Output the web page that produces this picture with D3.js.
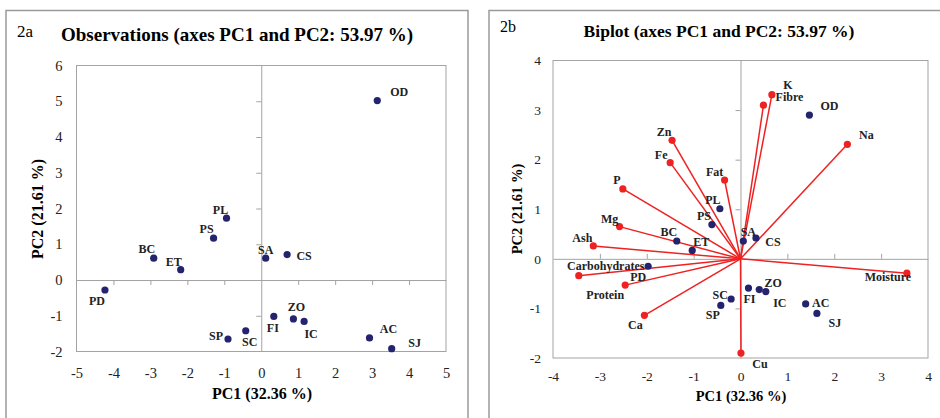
<!DOCTYPE html>
<html>
<head>
<meta charset="utf-8">
<script src="https://cdn.jsdelivr.net/npm/d3@7"></script>
<style>
  body { margin: 0; background: #fff; }
  svg { display: block; font-family: "Liberation Serif", "Times New Roman", serif; }
</style>
</head>
<body>
<div id="chart"></div>
<script>
// ---------- data ----------
const obsNames = ['OD', 'PL', 'PS', 'BC', 'ET', 'SA', 'CS', 'PD', 'FI', 'ZO', 'IC', 'SC', 'SP', 'AC', 'SJ'];
// panel 2a: observation scores
const obsPC1 = [3.14, -0.94, -1.29, -2.91, -2.18, 0.12, 0.70, -4.23, 0.34, 0.87, 1.16, -0.42, -0.90, 2.93, 3.53];
const obsPC2 = [5.02, 1.73, 1.17, 0.61, 0.29, 0.61, 0.71, -0.28, -1.02, -1.09, -1.16, -1.42, -1.65, -1.62, -1.92];
// panel 2b: observations on biplot scale
const bipObsPC1 = [1.47, -0.44, -0.61, -1.36, -1.03, 0.06, 0.33, -1.97, 0.17, 0.40, 0.54, -0.20, -0.42, 1.39, 1.63];
const bipObsPC2 = [2.90, 1.01, 0.69, 0.36, 0.17, 0.36, 0.42, -0.15, -0.59, -0.62, -0.66, -0.81, -0.94, -0.91, -1.10];
// panel 2b: variables
const varNames = ['K', 'Fibre', 'Na', 'Zn', 'Fe', 'Fat', 'P', 'Mg', 'Ash', 'Carbohydrates', 'Protein', 'Ca', 'Cu', 'Moisture'];
const varPC1 = [0.67, 0.49, 2.28, -1.46, -1.50, -0.34, -2.51, -2.58, -3.14, -3.45, -2.46, -2.05, 0.01, 3.55];
const varPC2 = [3.31, 3.10, 2.31, 2.39, 1.94, 1.59, 1.41, 0.65, 0.26, -0.34, -0.53, -1.14, -1.90, -0.29];

const xTicksA = [-5, -4, -3, -2, -1, 0, 1, 2, 3, 4, 5];
const yTicksA = [-2, -1, 0, 1, 2, 3, 4, 5, 6];
const xTicksB = [-4, -3, -2, -1, 0, 1, 2, 3, 4];
const yTicksB = [-2, -1, 0, 1, 2, 3, 4];

// label offsets (px, centre of label relative to its point)
const offA = {
  OD: [22, -9], PL: [-6, -8], PS: [-7, -9], BC: [-7, -9], ET: [-7, -8], SA: [0, -8], CS: [17, 1],
  PD: [-8, 11], FI: [-1, 12], ZO: [3, -12], IC: [7, 13], SC: [4, 11], SP: [-12, -3], AC: [19, -9], SJ: [23, -6]
};
const offBObs = {
  OD: [20, -9], PL: [-7, -9], PS: [-8, -9], BC: [-8, -9], ET: [9, -8], SA: [5, -9], CS: [17, 4],
  PD: [-10, 11], FI: [1, 11], ZO: [14, -7], IC: [14, 11], SC: [-11, -4], SP: [-8, 10], AC: [15, -1], SJ: [18, 10]
};
const offBVar = {
  K: [16, -10], Fibre: [26, -8], Na: [19, -9], Zn: [-8, -8], Fe: [-9, -8], Fat: [-10, -8], P: [-6, -9],
  Mg: [-10, -8], Ash: [-11, -8], Carbohydrates: [27, -10], Protein: [-20, 10], Ca: [-9, 10], Cu: [19, 11], Moisture: [-19, 4]
};

const grey = '#a3a3a3';
const blue = '#23236e';
const red = '#ee2222';
const serif = '"Liberation Serif", "Times New Roman", serif';

const svg = d3.select('#chart')
  .append('svg')
  .attr('width', 940)
  .attr('height', 418);

function drawPanel(p) {
  const g = svg.append('g');

  // outer box
  g.append('rect')
    .attr('x', p.box[0]).attr('y', p.box[1])
    .attr('width', p.box[2]).attr('height', p.box[3])
    .attr('fill', 'none').attr('stroke', '#9a9a9a').attr('stroke-width', 1.5);

  g.append('text')
    .attr('x', p.tag[0]).attr('y', p.tag[1])
    .attr('font-size', p.tagSize)
    .text(p.tagText);

  g.append('text')
    .attr('x', p.title[0]).attr('y', p.title[1])
    .attr('text-anchor', 'middle')
    .attr('font-size', p.titleSize)
    .attr('font-weight', 'bold')
    .text(p.titleText);

  const x = d3.scaleLinear().domain(p.xDomain).range([p.left, p.right]);
  const y = d3.scaleLinear().domain(p.yDomain).range([p.bottom, p.top]);

  // plot frame
  g.append('rect')
    .attr('x', p.left).attr('y', p.top)
    .attr('width', p.right - p.left).attr('height', p.bottom - p.top)
    .attr('fill', 'none').attr('stroke', grey).attr('stroke-width', 1);

  // tick labels outside the frame
  const xLab = g.append('g')
    .attr('transform', `translate(0,${p.bottom})`)
    .call(d3.axisBottom(x).tickValues(p.xTicks).tickSize(0).tickPadding(p.xPad).tickFormat(d => String(d)));
  const yLab = g.append('g')
    .attr('transform', `translate(${p.left},0)`)
    .call(d3.axisLeft(y).tickValues(p.yTicks).tickSize(0).tickPadding(p.yPad).tickFormat(d => String(d)));
  [xLab, yLab].forEach(a => {
    a.attr('font-family', serif).attr('font-size', p.tickSize);
    a.select('.domain').remove();
    a.selectAll('text')
      .attr('font-family', serif)
      .attr('font-size', p.tickSize)
      .attr('fill', '#222');
  });

  // zero axes with ticks
  const xi = p.xTicks.filter(d => d !== 0);
  const yi = p.yTicks.filter(d => d !== 0);
  const xAx = p.ticksUp ? d3.axisTop(x) : d3.axisBottom(x);
  const zx = g.append('g')
    .attr('transform', `translate(0,${y(0)})`)
    .call(xAx.tickValues(xi.filter(d => d > p.xDomain[0] && d < p.xDomain[1])).tickSize(5).tickSizeOuter(0).tickFormat(''));
  const zy = g.append('g')
    .attr('transform', `translate(${x(0)},0)`)
    .call(d3.axisLeft(y).tickValues(yi.filter(d => d > p.yDomain[0] && d < p.yDomain[1])).tickSize(5).tickSizeOuter(0).tickFormat(''));
  [zx, zy].forEach(a => {
    a.selectAll('path, line').attr('stroke', grey).attr('stroke-width', 1);
  });

  // axis titles
  g.append('text')
    .attr('x', p.xTitle[0]).attr('y', p.xTitle[1])
    .attr('text-anchor', 'middle')
    .attr('font-size', p.axTitleSize).attr('font-weight', 'bold')
    .text('PC1 (32.36 %)');
  g.append('text')
    .attr('transform', `translate(${p.yTitle[0]},${p.yTitle[1]}) rotate(-90)`)
    .attr('text-anchor', 'middle')
    .attr('font-size', p.axTitleSize).attr('font-weight', 'bold')
    .text('PC2 (21.61 %)');

  return { g, x, y };
}

// ---------- panel 2a ----------
const A = drawPanel({
  box: [6, 10.5, 462, 420], tag: [17, 37], tagSize: 17, tagText: '2a',
  title: [237, 41], titleSize: 19, titleText: 'Observations (axes PC1 and PC2: 53.97 %)',
  left: 76.5, right: 446, top: 65.5, bottom: 351.5,
  xDomain: [-5, 5], yDomain: [-2, 6], xTicks: xTicksA, yTicks: yTicksA,
  xPad: 16, yPad: 14, tickSize: 14.5, ticksUp: false,
  xTitle: [262, 399], yTitle: [43, 209], axTitleSize: 16
});

const obsA = obsNames.map((n, i) => ({ name: n, pc1: obsPC1[i], pc2: obsPC2[i] }));
A.g.selectAll('circle.obs')
  .data(obsA)
  .enter()
  .append('circle')
  .attr('class', 'obs')
  .attr('cx', d => A.x(d.pc1))
  .attr('cy', d => A.y(d.pc2))
  .attr('r', 3.6)
  .attr('fill', blue);
A.g.selectAll('text.obsl')
  .data(obsA)
  .enter()
  .append('text')
  .attr('class', 'obsl')
  .attr('x', d => A.x(d.pc1) + offA[d.name][0])
  .attr('y', d => A.y(d.pc2) + offA[d.name][1] + 4)
  .attr('text-anchor', 'middle')
  .attr('font-size', 12).attr('font-weight', 'bold')
  .attr('fill', '#222')
  .text(d => d.name);

// ---------- panel 2b ----------
const B = drawPanel({
  box: [489, 10.5, 470, 420], tag: [500, 32], tagSize: 16, tagText: '2b',
  title: [719, 37], titleSize: 17.5, titleText: 'Biplot (axes PC1 and PC2: 53.97 %)',
  left: 553, right: 928, top: 60.5, bottom: 358,
  xDomain: [-4, 4], yDomain: [-2, 4], xTicks: xTicksB, yTicks: yTicksB,
  xPad: 13, yPad: 12, tickSize: 13.5, ticksUp: true,
  xTitle: [741, 401], yTitle: [522, 209], axTitleSize: 14.5
});

const vars = varNames.map((n, i) => ({ name: n, pc1: varPC1[i], pc2: varPC2[i] }));
const obsB = obsNames.map((n, i) => ({ name: n, pc1: bipObsPC1[i], pc2: bipObsPC2[i] }));

B.g.selectAll('line.vec')
  .data(vars)
  .enter()
  .append('line')
  .attr('class', 'vec')
  .attr('x1', B.x(0)).attr('y1', B.y(0))
  .attr('x2', d => B.x(d.pc1))
  .attr('y2', d => B.y(d.pc2))
  .attr('stroke', red)
  .attr('stroke-width', 1.5);
B.g.selectAll('circle.var')
  .data(vars)
  .enter()
  .append('circle')
  .attr('class', 'var')
  .attr('cx', d => B.x(d.pc1))
  .attr('cy', d => B.y(d.pc2))
  .attr('r', 3.6)
  .attr('fill', red);
B.g.selectAll('circle.obs')
  .data(obsB)
  .enter()
  .append('circle')
  .attr('class', 'obs')
  .attr('cx', d => B.x(d.pc1))
  .attr('cy', d => B.y(d.pc2))
  .attr('r', 3.6)
  .attr('fill', blue);

const labelsB = vars.map(d => ({ ...d, off: offBVar[d.name] }))
  .concat(obsB.map(d => ({ ...d, off: offBObs[d.name] })));
B.g.selectAll('text.bl')
  .data(labelsB)
  .enter()
  .append('text')
  .attr('class', 'bl')
  .attr('x', d => B.x(d.pc1) + d.off[0])
  .attr('y', d => B.y(d.pc2) + d.off[1] + 4)
  .attr('text-anchor', 'middle')
  .attr('font-size', 12).attr('font-weight', 'bold')
  .attr('fill', '#222')
  .text(d => d.name);
</script>
</body>
</html>
